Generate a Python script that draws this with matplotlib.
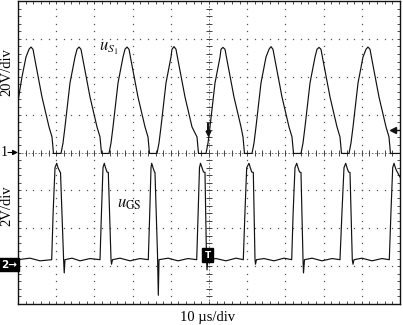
import numpy as np
import matplotlib
matplotlib.use("Agg")
import matplotlib.pyplot as plt

plt.rcParams['mathtext.fontset'] = 'stix'

# ---------------- data (time in µs, voltage in V) ----------------
ch1_t = [0.00, 1.05, 2.09, 2.88, 3.40, 3.93, 4.45, 6.28, 8.12, 8.90, 9.29,
         11.26, 11.78, 12.30, 13.61, 14.92, 15.45, 15.97, 16.49, 17.02, 18.85, 20.68, 21.47, 21.86,
         23.82, 24.35, 24.87, 26.18, 27.49, 28.01, 28.53, 29.06, 29.58, 31.41, 33.25, 34.03, 34.42,
         36.39, 36.91, 37.43, 38.74, 40.05, 40.31, 40.84, 41.36, 41.88, 43.72, 45.55, 46.86, 47.25,
         49.21, 49.74, 50.26, 51.57, 52.88, 53.14, 53.66, 54.19, 54.71, 56.54, 58.38, 58.90, 59.29,
         61.26, 61.78, 62.30, 63.61, 64.92, 65.71, 66.23, 66.75, 67.28, 69.11, 70.94, 71.73, 72.12,
         74.08, 74.61, 75.13, 76.44, 77.75, 78.27, 78.80, 79.32, 79.84, 81.68, 83.51, 84.29, 84.69,
         86.65, 87.17, 87.70, 89.01, 90.31, 91.10, 91.62, 92.15, 92.67, 94.50, 96.34, 97.12, 97.51,
         100.0]
ch1_v = [27.0, 40.0, 50.4, 54.5, 55.7, 54.5, 48.8, 29.3, 13.5, 8.2, -0.5,
         -0.5, 5.0, 13.5, 36.7, 50.4, 54.5, 55.7, 54.5, 48.8, 29.3, 13.5, 8.2, -0.5,
         -0.5, 5.0, 13.5, 36.7, 50.4, 54.5, 55.7, 54.5, 48.8, 29.3, 13.5, 8.2, -0.5,
         -0.5, 5.0, 13.5, 36.7, 50.4, 54.5, 55.9, 54.5, 48.8, 29.3, 13.5, 8.2, -0.5,
         -0.5, 5.0, 13.5, 36.7, 50.4, 54.5, 55.5, 54.5, 48.8, 29.3, 13.5, 8.2, -0.5,
         -0.5, 5.0, 13.5, 36.7, 50.4, 54.5, 55.9, 54.5, 48.8, 29.3, 13.5, 8.2, -0.5,
         -0.5, 5.0, 13.5, 36.7, 50.4, 54.5, 55.5, 54.5, 48.8, 29.3, 13.5, 8.2, -0.5,
         -0.5, 5.0, 13.5, 36.7, 50.4, 54.5, 55.7, 54.5, 48.8, 29.3, 13.5, 8.2, -0.5,
         -0.5]

ch2_t = [0.00, 3.14, 5.76,
         8.82, 9.21, 9.69, 10.13, 10.47, 11.00, 11.13, 11.94, 12.10, 12.30, 14.14, 16.23, 18.85,
         21.47, 21.86, 22.25, 22.59, 22.91, 23.30, 23.64, 24.35, 24.48, 24.74, 26.70, 29.32, 31.94,
         34.11, 34.50, 34.82, 35.00, 35.34, 35.73, 35.86, 36.52, 36.73, 36.91, 39.27, 41.88, 44.50,
         46.78, 47.17, 47.51, 47.77, 48.17, 48.56, 48.95, 49.35, 49.48, 49.69, 51.83, 54.45, 57.07,
         58.98, 59.42, 59.87, 60.47, 60.73, 61.18, 61.60, 62.04, 62.17, 62.43, 64.40, 67.02, 69.63,
         71.65, 72.04, 72.51, 72.96, 73.30, 73.69, 74.08, 74.61, 74.74, 75.00, 76.96, 79.58, 82.20,
         84.29, 84.82, 85.34, 85.79, 86.13, 86.52, 86.91, 87.51, 87.70, 87.96, 90.05, 92.67, 95.29,
         97.20, 97.64, 98.09, 98.43, 98.95, 99.48, 100.0]
ch2_v = [0.24, 0.32, 0.18,
         0.24, 2.8, 5.1, 5.33, 5.1, 4.87, 4.85, 0.24, -0.46, 0.24, 0.32, 0.18, 0.30,
         0.24, 2.8, 5.1, 5.33, 5.1, 4.87, 4.85, 0.24, 0.0, 0.24, 0.32, 0.18, 0.30,
         0.24, 2.8, 5.1, 5.33, 5.1, 4.87, 4.85, 0.5, -1.64, 0.24, 0.32, 0.18, 0.30,
         0.24, 2.8, 5.1, 5.33, 5.1, 4.87, 4.85, 0.24, -0.3, 0.24, 0.30, 0.18, 0.32,
         0.24, 2.8, 5.1, 5.33, 5.15, 4.87, 4.85, 0.24, 0.0, 0.24, 0.30, 0.18, 0.32,
         0.24, 2.8, 5.1, 5.33, 5.1, 4.87, 4.85, 0.24, -0.46, 0.24, 0.32, 0.18, 0.30,
         0.24, 2.8, 5.1, 5.33, 5.1, 4.87, 4.85, 0.24, 0.0, 0.24, 0.32, 0.18, 0.30,
         0.24, 2.8, 5.1, 5.33, 5.0, 4.8, 4.6]

CH1_SCALE = 20.0   # V/div
CH2_SCALE = 2.0    # V/div
CH1_GND = 0.0      # div
CH2_GND = -2.95    # div

# ---------------- figure ----------------
W, H = 403, 325
fig = plt.figure(figsize=(W / 100, H / 100), dpi=100)
L, R, T, B = 18, 400, 1, 304
ax = fig.add_axes([L / W, (H - B) / H, (R - L) / W, (B - T) / H])
ax.set_xlim(0, 100)
ax.set_ylim(-4, 4)

def px2d(x, y):
    return (x - L) / ((R - L) / 100.0), 4 - (y - T) / ((B - T) / 8.0)

# grid: dotted lines at each division
gx = np.arange(0, 100.01, 2.0)
gy = np.arange(-4, 4.01, 0.2)
for xv in [10, 20, 30, 40, 60, 70, 80, 90]:
    ax.plot(np.full_like(gy, xv), gy, ls='none', marker='s', ms=0.9,
            mec='none', mfc='#555555', zorder=1)
for yv in [-3, -2, -1, 1, 2, 3]:
    ax.plot(gx, np.full_like(gx, yv), ls='none', marker='s', ms=0.9,
            mec='none', mfc='#555555', zorder=1)
# center crosshair with minor ticks
ax.plot([50, 50], [-4, 4], color='#666666', lw=0.6, ls=(0, (2, 2)), zorder=1)
ax.plot([0, 100], [0, 0], color='#666666', lw=0.6, ls=(0, (2, 2)), zorder=1)
ax.plot(np.full_like(gy, 50), gy, ls='none', marker='_', ms=4, mew=0.7,
        color='#444444', zorder=1)
ax.plot(gx, np.zeros_like(gx), ls='none', marker='|', ms=4, mew=0.7,
        color='#444444', zorder=1)

# border ticks
ax.set_xticks(gx)
ax.set_yticks(gy)
ax.tick_params(direction='in', top=True, right=True, length=2.5, width=0.6,
               color='#333333', labelbottom=False, labelleft=False)
for s in ax.spines.values():
    s.set_linewidth(1.0)
    s.set_color('#111111')

# traces
y1 = [CH1_GND + v / CH1_SCALE for v in ch1_v]
y2 = [CH2_GND + v / CH2_SCALE for v in ch2_v]
ax.plot(ch1_t, y1, color='#111111', lw=0.85, zorder=3, clip_on=True)
ax.plot(ch2_t, y2, color='#111111', lw=0.85, zorder=3, clip_on=True)

# trace labels
serif = ['Liberation Serif', 'DejaVu Serif']
x, y = px2d(99, 51)
ax.text(x, y, r'$u_{S_1}$', fontsize=12, color='#111111', va='baseline', ha='left')
x, y = px2d(117, 208)
ax.text(x, y, r'$u_{\mathrm{GS}}$', fontsize=12, color='#111111', va='baseline', ha='left')

# trigger markers
x0, ya = px2d(208, 123)
_, yb = px2d(208, 133)
ax.plot([x0, x0], [ya, yb], color='#111111', lw=1.4, zorder=4, solid_capstyle='butt')
ax.plot([x0], [px2d(208, 133)[1]], marker='v', ms=3.5, color='#111111', zorder=4)
xr, yr = px2d(393, 130)
ax.plot([xr], [yr], marker='<', ms=5, color='#111111', zorder=4, clip_on=False)
ax.plot([xr, 100], [yr, yr], color='#111111', lw=1.0, zorder=4)
xt, yt = px2d(207.5, 255)
ax.text(xt, yt, 'T', fontsize=6.5, color='white', ha='center', va='center',
        family='DejaVu Sans', fontweight='bold', zorder=5,
        bbox=dict(boxstyle='square,pad=0.3', fc='black', ec='black'))

# channel ground markers (figure pixels)
def fx(x): return x / W
def fy(y): return 1 - y / H

fig.text(fx(4), fy(152.5), '1', fontsize=10, family=serif, ha='center', va='center')
ax.annotate('', xy=(0, CH1_GND), xycoords='data', xytext=(fx(8), fy(152.5)),
            textcoords='figure fraction', annotation_clip=False,
            arrowprops=dict(arrowstyle='-|>,head_length=0.3,head_width=0.15',
                            color='black', lw=0.8, shrinkA=0, shrinkB=0))
fig.text(fx(9), fy(264.5), '2\u2192', fontsize=7.5, family='DejaVu Sans', fontweight='bold',
         color='white', ha='center', va='center',
         bbox=dict(boxstyle='square,pad=0.15', fc='black', ec='black'))

# axis texts
fig.text(fx(7), fy(72), '20V/div', rotation=90, fontsize=10.5, family=serif,
         ha='center', va='center')
fig.text(fx(7), fy(206), '2V/div', rotation=90, fontsize=10.5, family=serif,
         ha='center', va='center')
fig.text(fx(208), fy(317), '10 \u00b5s/div', fontsize=10.5, family=serif,
         ha='center', va='center')

fig.savefig('out.png', dpi=100)
